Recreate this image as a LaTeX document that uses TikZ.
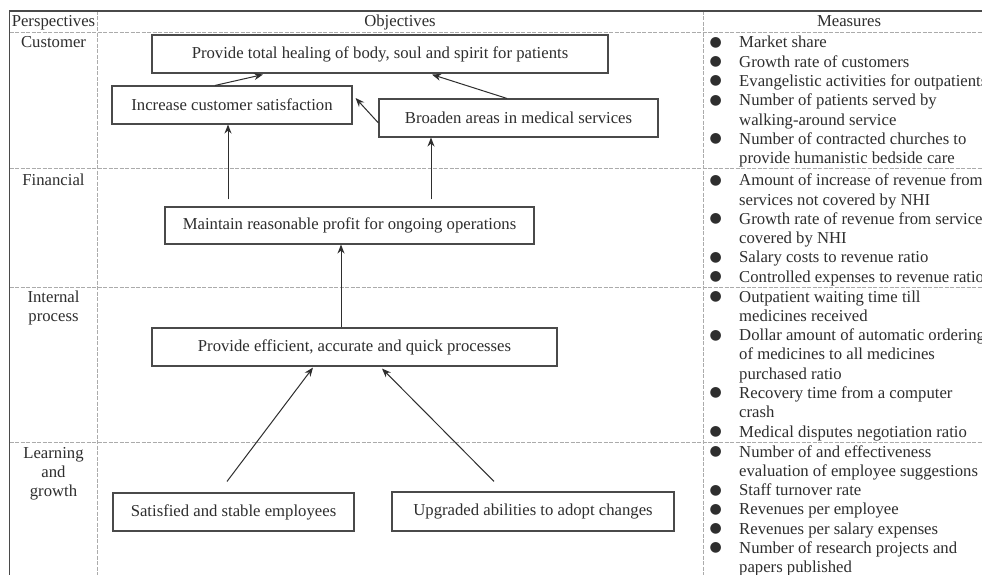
\documentclass[tikz,border=0pt]{standalone}
\usepackage{fontspec}
\setmainfont{Liberation Serif}
\newfontfamily\symfont{DejaVu Sans}
\usetikzlibrary{arrows.meta,calc}

\definecolor{ink}{HTML}{2E2E2E}
\definecolor{rule}{HTML}{4A4A4A}
\definecolor{grid}{HTML}{ABABAB}

% bullet used in the measures lists
\newcommand\mbul{\makebox[29.5pt][l]{\raisebox{1.6pt}{\symfont\fontsize{14}{14}\selectfont ●}}}

\tikzset{
  txt/.style={font=\fontsize{16.7}{19.3}\selectfont, text=ink, inner sep=0pt},
  obj/.style={txt, draw=rule, line width=1.1pt, align=center},
  frame/.style={draw=rule, line width=1.1pt},
  gridline/.style={draw=grid, line width=0.8pt, dash pattern=on 4pt off 1.5pt},
  arr/.style={draw=ink, line width=1pt, -{Stealth[length=9pt,width=7pt]}},
}

\begin{document}
\begin{tikzpicture}[x=1pt, y=-1pt]
\path[clip] (0,0) rectangle (982,575);
\fill[white] (0,0) rectangle (982,575);

% table rules
\draw[gridline] (97,11) -- (97,575);
\draw[gridline] (703,11) -- (703,575);
\draw[gridline] (9.5,32) -- (982,32);
\draw[gridline] (9.5,168) -- (982,168);
\draw[gridline] (9.5,287) -- (982,287);
\draw[gridline] (9.5,442) -- (982,442);
\draw[frame] (9.5,575) -- (9.5,11) -- (982,11);

% header row
\node[txt, anchor=base] (hpersp) at (53.5,27) {Perspectives};
\node[txt, anchor=base] (hobj) at (400,27) {Objectives};
\node[txt, anchor=base] (hmeas) at (849,27) {Measures};

% perspectives
\node[txt, anchor=base] (pcust) at (53.5,48) {Customer};
\node[txt, anchor=base] (pfin) at (53.5,185) {Financial};
\node[txt, anchor=base] (pint) at (53.5,302) {\begin{tabular}[t]{@{}c@{}}Internal\\process\end{tabular}};
\node[txt, anchor=base] (plearn) at (53.5,458) {\begin{tabular}[t]{@{}c@{}}Learning\\and\\growth\end{tabular}};

% objectives
\node[obj, minimum width=456pt, minimum height=38pt] (heal) at (380,54) {Provide total healing of body, soul and spirit for patients};
\node[obj, minimum width=240pt, minimum height=38pt] (incr) at (232,105) {Increase customer satisfaction};
\node[obj, minimum width=279pt, minimum height=38pt] (broad) at (518.5,118) {Broaden areas in medical services};
\node[obj, minimum width=369pt, minimum height=37pt] (maint) at (349.5,225.5) {Maintain reasonable profit for ongoing operations};
\node[obj, minimum width=405pt, minimum height=38pt] (proc) at (354.5,347) {Provide efficient, accurate and quick processes};
\node[obj, minimum width=241pt, minimum height=38pt] (sat) at (233.5,512) {Satisfied and stable employees};
\node[obj, minimum width=282pt, minimum height=39pt] (upg) at (533,511.5) {Upgraded abilities to adopt changes};

% cause-and-effect links
\draw[arr] ($(incr.north)+(-17,0)$) -- ($(heal.south)+(-117,1)$);
\draw[arr] ($(broad.north)+(-11.5,0)$) -- ($(heal.south)+(52,1)$);
\draw[arr] ($(broad.west)+(0,5)$) -- ($(incr.east)+(3,-7)$);
\draw[arr] ($(maint.north)+(-121.5,-7)$) -- ($(incr.south)+(-4,0)$);
\draw[arr] ($(maint.north)+(81.5,-7)$) -- ($(broad.south)+(-87.5,0)$);
\draw[arr] ($(proc.north)+(-13.5,0)$) -- ($(maint.south)+(-8.5,0)$);
\draw[arr] ($(sat.north)+(-6.5,-11)$) -- ($(proc.south)+(-41.5,1)$);
\draw[arr] ($(upg.north)+(-39,-10)$) -- ($(proc.south)+(27.5,2)$);

% measures
\node[txt, anchor=base west] (mcust) at (709.5,48) {\begin{tabular}[t]{@{}l@{}l@{}}
\mbul & Market share\\
\mbul & Growth rate of customers\\
\mbul & Evangelistic activities for outpatients\\
\mbul & Number of patients served by\\
      & walking-around service\\
\mbul & Number of contracted churches to\\
      & provide humanistic bedside care
\end{tabular}};
\node[txt, anchor=base west] (mfin) at (709.5,185.7) {\begin{tabular}[t]{@{}l@{}l@{}}
\mbul & Amount of increase of revenue from\\
      & services not covered by NHI\\
\mbul & Growth rate of revenue from services\\
      & covered by NHI\\
\mbul & Salary costs to revenue ratio\\
\mbul & Controlled expenses to revenue ratio
\end{tabular}};
\node[txt, anchor=base west] (mint) at (709.5,302) {\begin{tabular}[t]{@{}l@{}l@{}}
\mbul & Outpatient waiting time till\\
      & medicines received\\
\mbul & Dollar amount of automatic ordering\\
      & of medicines to all medicines\\
      & purchased ratio\\
\mbul & Recovery time from a computer\\
      & crash\\
\mbul & Medical disputes negotiation ratio
\end{tabular}};
\node[txt, anchor=base west] (mlearn) at (709.5,457) {\begin{tabular}[t]{@{}l@{}l@{}}
\mbul & Number of and effectiveness\\
      & evaluation of employee suggestions\\
\mbul & Staff turnover rate\\
\mbul & Revenues per employee\\
\mbul & Revenues per salary expenses\\
\mbul & Number of research projects and\\
      & papers published
\end{tabular}};
\end{tikzpicture}
\end{document}
